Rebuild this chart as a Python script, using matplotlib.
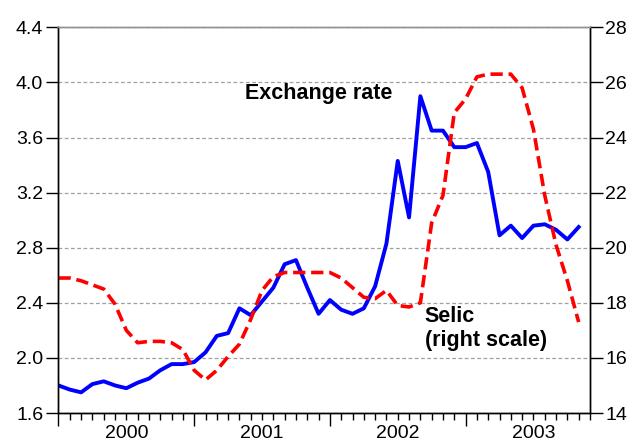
import numpy as np
import matplotlib
matplotlib.use("Agg")
import matplotlib.pyplot as plt
from matplotlib.ticker import MultipleLocator
from matplotlib.transforms import blended_transform_factory

plt.rcParams['font.family'] = ['Liberation Sans', 'DejaVu Sans']

# monthly data, 2000M01 .. 2003M11
exchange_rate = [1.80, 1.77, 1.75, 1.81, 1.83, 1.80, 1.78, 1.82, 1.85, 1.91,
                 1.955, 1.955, 1.97, 2.04, 2.16, 2.18, 2.36, 2.31, 2.41, 2.51,
                 2.68, 2.71, 2.51, 2.32, 2.42, 2.35, 2.32, 2.36, 2.52, 2.83,
                 3.43, 3.02, 3.90, 3.65, 3.65, 3.53, 3.53, 3.56, 3.35, 2.89,
                 2.96, 2.87, 2.96, 2.97, 2.93, 2.86, 2.95]
selic = [18.9, 18.9, 18.8, 18.65, 18.5, 17.95, 17.0, 16.55, 16.6, 16.6,
         16.55, 16.3, 15.55, 15.2, 15.55, 16.05, 16.5, 17.4, 18.45, 18.95,
         19.1, 19.1, 19.1, 19.1, 19.1, 18.9, 18.55, 18.2, 18.15, 18.45,
         17.9, 17.85, 18.0, 20.9, 21.9, 24.9, 25.4, 26.2, 26.3, 26.3,
         26.3, 25.8, 24.3, 21.9, 20.1, 18.8, 17.3]
years = ['2000', '2001', '2002', '2003']

x = np.arange(len(exchange_rate))

fig = plt.figure(figsize=(6.31, 4.44), dpi=100)
ax = fig.add_axes([0.0927, 0.0698, 0.8423, 0.8687])
ax2 = ax.twinx()

ax.plot(x, exchange_rate, color='#0000ff', lw=2.8)
ax2.plot(x, selic, color='#ff0000', lw=2.6, dashes=(3.4, 1.6))

ax.set_xlim(0, 47)
ax.set_ylim(1.6, 4.4)
ax2.set_ylim(14, 28)
ax.yaxis.set_major_locator(MultipleLocator(0.4))
ax2.yaxis.set_major_locator(MultipleLocator(2))
ax.yaxis.set_major_formatter(matplotlib.ticker.FormatStrFormatter('%.1f'))

ax.grid(axis='y', color='#a0a0a0', lw=0.9, ls=(0, (3, 2)))
ax.set_axisbelow(True)

# monthly ticks, longer at each new year
ax.set_xticks([0, 12, 24, 36])
ax.set_xticks(np.arange(0, 48), minor=True)
ax.set_xticklabels([])
ax.tick_params(axis='x', which='major', length=9, width=1, direction='out')
ax.tick_params(axis='x', which='minor', length=5, width=1, direction='out')
ax.tick_params(axis='y', length=9, width=1, labelsize=14, pad=2)
ax2.tick_params(axis='y', length=9, width=1, labelsize=14, pad=2)

trans = blended_transform_factory(ax.transData, ax.transAxes)
for k, yr in enumerate(years):
    ax.text(6 + 12 * k, -0.032, yr, transform=trans, ha='center', va='top',
            fontsize=14)

for a in (ax, ax2):
    for s in ('left', 'right', 'bottom'):
        a.spines[s].set_color('black')
        a.spines[s].set_linewidth(1)
    a.spines['top'].set_color('#909090')
    a.spines['top'].set_linewidth(1)

ax.text(16.5, 3.92, 'Exchange rate', ha='left', va='center',
        fontsize=15.5, fontweight='bold')
ax.text(32.4, 2.213, 'Selic\n(right scale)', ha='left', va='center',
        fontsize=15.5, fontweight='bold', linespacing=1.2)

fig.savefig('out.png', dpi=100)
